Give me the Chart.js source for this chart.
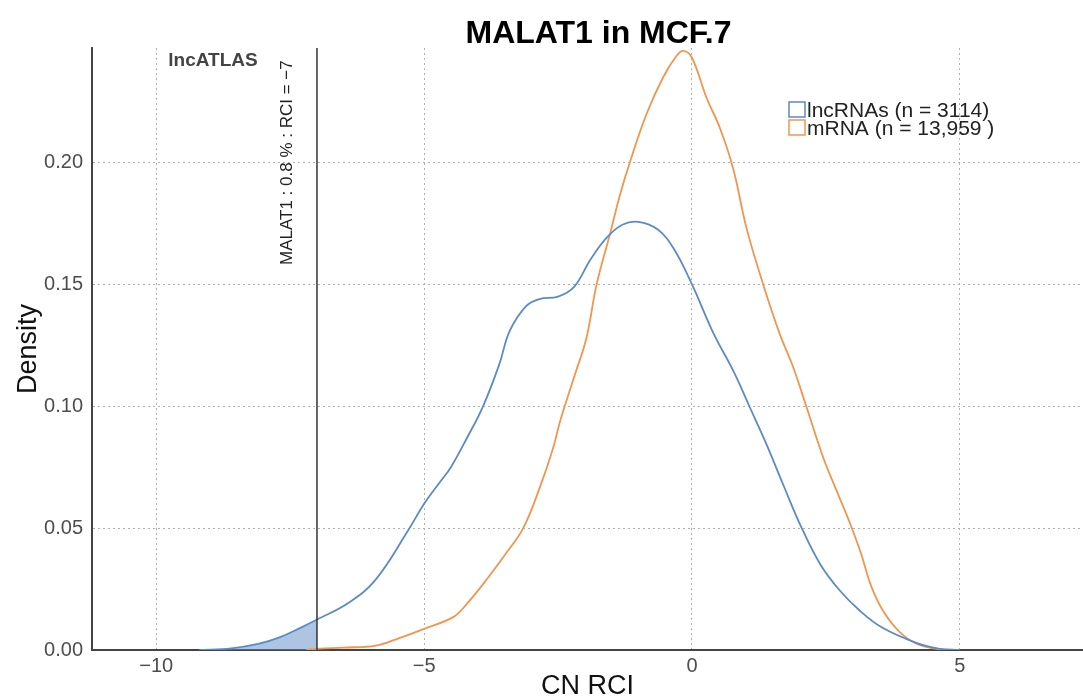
<!DOCTYPE html>
<html>
<head>
<meta charset="utf-8">
<script src="https://cdn.jsdelivr.net/npm/chart.js@4"></script>
<style>
  html, body { margin: 0; padding: 0; background: #fff; }
  #wrap { width: 1083px; height: 697px; }
</style>
</head>
<body>
<div id="wrap"><canvas id="densityChart" width="1083" height="697"></canvas></div>
<script>
// lncRNA density (CN RCI -> density)
const lncX = [-9.2, -8.6, -8.1, -7.7, -7.3, -7.0, -6.4, -5.9, -5.3, -5.0, -4.7, -4.5, -4.2, -3.9, -3.6, -3.4, -3.1, -2.85, -2.5, -2.2, -1.9, -1.6, -1.3, -1.0, -0.65, -0.35, 0, 0.4, 0.77, 1.08, 1.39, 1.7, 2.05, 2.4, 2.76, 3.13, 3.55, 4.2, 4.6, 5.0];
const lncY = [0, 0.0007, 0.0025, 0.0052, 0.0092, 0.0125, 0.0195, 0.029, 0.049, 0.060, 0.069, 0.075, 0.087, 0.100, 0.117, 0.131, 0.141, 0.144, 0.145, 0.149, 0.160, 0.169, 0.1745, 0.1757, 0.1727, 0.165, 0.150, 0.130, 0.1146, 0.0996, 0.0845, 0.068, 0.050, 0.035, 0.0244, 0.0162, 0.0092, 0.0028, 0.0006, 0];

// mRNA density
const mrnaX = [-7.2, -7.0, -6.5, -5.9, -5.45, -5.0, -4.45, -4.2, -3.83, -3.46, -3.15, -2.84, -2.59, -2.46, -2.2, -1.97, -1.78, -1.53, -1.34, -1.16, -0.85, -0.54, -0.29, -0.16, 0, 0.27, 0.52, 0.77, 1.02, 1.33, 1.64, 1.89, 2.14, 2.45, 2.7, 2.95, 3.15, 3.35, 3.57, 3.88, 4.19, 4.6, 5.0];
const mrnaY = [0, 0.0005, 0.001, 0.0018, 0.005, 0.0087, 0.0136, 0.019, 0.029, 0.040, 0.050, 0.0667, 0.083, 0.094, 0.112, 0.128, 0.150, 0.1707, 0.187, 0.200, 0.2198, 0.2349, 0.2437, 0.2458, 0.243, 0.2267, 0.2143, 0.1975, 0.173, 0.150, 0.1296, 0.116, 0.0996, 0.079, 0.0654, 0.052, 0.040, 0.026, 0.016, 0.0073, 0.0026, 0.0004, 0];

const xTicks = [-10, -5, 0, 5];
const yTicks = [0, 0.05, 0.10, 0.15, 0.20];
const seriesLabels = ["lncRNAs (n = 3114)", "mRNA (n = 13,959 )"];
const malatRci = -7;
const chartTitle = "MALAT1 in MCF.7";
const markerLabel = "MALAT1 : 0.8 % : RCI = \u22127";

const xMin = -11.2, xMax = 7.3, yMax = 0.247;
const blue = "#5b8bc7";
const orange = "#f0964e";
const font = "'Liberation Sans', Arial, sans-serif";

const toPoints = (xs, ys) => xs.map((v, i) => ({ x: v, y: ys[i] }));
const lncPoints = toPoints(lncX, lncY);
const shaded = lncPoints.filter(p => p.x <= malatRci);

const annotations = {
  id: "annotations",
  afterDraw(chart) {
    const { ctx, chartArea, scales: { x } } = chart;
    ctx.save();
    ctx.textBaseline = "alphabetic";

    ctx.fillStyle = "#000";
    ctx.font = "bold 32px " + font;
    ctx.textAlign = "center";
    ctx.fillText(chartTitle, (chartArea.left + chartArea.right) / 2 + 11, 43);

    ctx.fillStyle = "#444";
    ctx.font = "bold 19px " + font;
    ctx.textAlign = "left";
    ctx.fillText("lncATLAS", x.getPixelForValue(-10) + 12, 66);

    // rotated label next to the marker line
    ctx.save();
    ctx.translate(x.getPixelForValue(malatRci) - 25, 265);
    ctx.rotate(-Math.PI / 2);
    ctx.fillStyle = "#222";
    ctx.font = "17px " + font;
    ctx.fillText(markerLabel, 0, 0);
    ctx.restore();

    // legend
    const lx = chartArea.right - 294, ly = 102;
    [blue, orange].forEach((c, i) => {
      ctx.strokeStyle = c;
      ctx.lineWidth = 1.5;
      ctx.strokeRect(lx, ly + i * 18, 16, 15);
      ctx.fillStyle = "#222";
      ctx.font = "21px " + font;
      ctx.fillText(seriesLabels[i], lx + 18, ly + 15 + i * 18);
    });
    ctx.restore();
  }
};

new Chart(document.getElementById("densityChart"), {
  type: "line",
  data: {
    datasets: [
      {
        data: [{ x: malatRci, y: 0 }, { x: malatRci, y: yMax }],
        borderColor: "#333",
        borderWidth: 1.5,
        pointRadius: 0,
        order: 0
      },
      {
        label: seriesLabels[0],
        data: lncPoints,
        borderColor: blue,
        borderWidth: 1.8,
        pointRadius: 0,
        tension: 0.4,
        order: 1
      },
      {
        label: seriesLabels[1],
        data: toPoints(mrnaX, mrnaY),
        borderColor: orange,
        borderWidth: 1.8,
        pointRadius: 0,
        tension: 0.4,
        order: 2
      },
      {
        data: shaded,
        borderWidth: 0,
        pointRadius: 0,
        fill: "origin",
        backgroundColor: "rgba(91, 139, 199, 0.5)",
        tension: 0.4,
        order: 3
      }
    ]
  },
  options: {
    responsive: false,
    animation: false,
    layout: { padding: { top: 48, right: 0, left: 0, bottom: 0 } },
    plugins: {
      legend: { display: false },
      tooltip: { enabled: false }
    },
    scales: {
      x: {
        type: "linear",
        min: xMin,
        max: xMax,
        afterBuildTicks: s => { s.ticks = xTicks.map(v => ({ value: v })); },
        afterFit: s => { s.height = 47; },
        ticks: {
          padding: 4,
          color: "#4d4d4d",
          font: { family: font, size: 20 },
          callback: v => String(v).replace("-", "\u2212")
        },
        grid: { color: "#b0b0b0", lineWidth: 1, drawTicks: false },
        border: { display: true, color: "#444", width: 2, dash: [2, 3] },
        title: {
          display: true,
          text: "CN RCI",
          color: "#111",
          font: { family: font, size: 27 },
          padding: { top: 0, bottom: -6 }
        }
      },
      y: {
        min: 0,
        max: yMax,
        afterBuildTicks: s => { s.ticks = yTicks.map(v => ({ value: v })); },
        afterFit: s => { s.width = 92; },
        ticks: {
          padding: 9,
          color: "#4d4d4d",
          font: { family: font, size: 20 },
          callback: v => v.toFixed(2)
        },
        grid: { color: "#b0b0b0", lineWidth: 1, drawTicks: false },
        border: { display: true, color: "#444", width: 2, dash: [2, 3] },
        title: {
          display: true,
          text: "Density",
          color: "#111",
          font: { family: font, size: 27 },
          padding: { top: 12, bottom: 0 }
        }
      }
    }
  },
  plugins: [annotations]
});
</script>
</body>
</html>
